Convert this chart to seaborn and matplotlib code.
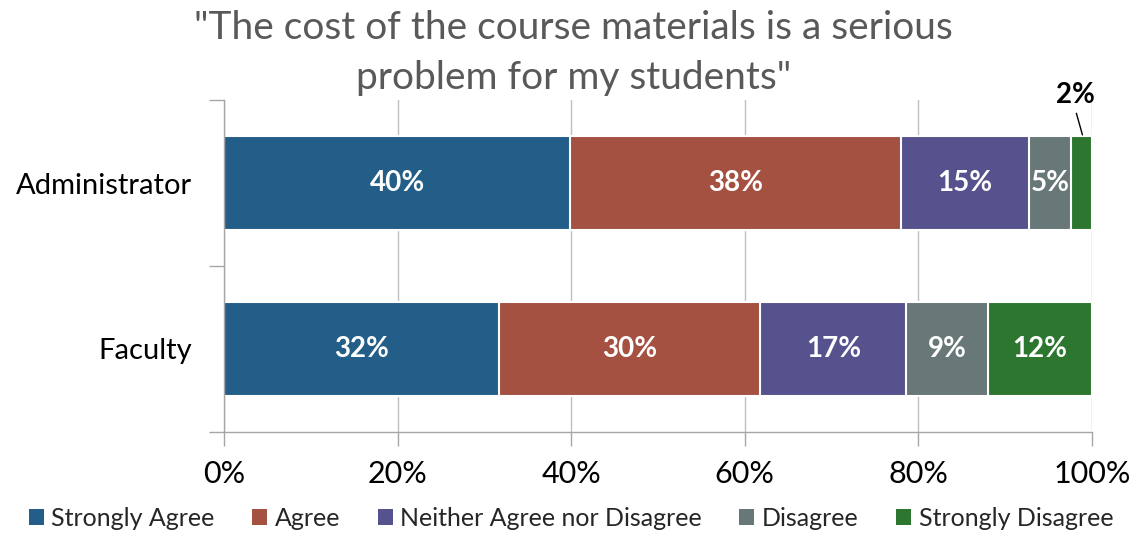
import matplotlib
matplotlib.use("Agg")
import matplotlib.pyplot as plt
import seaborn as sns
import pandas as pd
import numpy as np
from matplotlib.ticker import MultipleLocator, FixedLocator, PercentFormatter
from matplotlib.patches import Patch

groups = ["Administrator", "Faculty"]
responses = ["Strongly Agree", "Agree", "Neither Agree nor Disagree", "Disagree", "Strongly Disagree"]
administrator = [39.9, 38.1, 14.7, 4.9, 2.4]
faculty = [31.7, 30.1, 16.8, 9.4, 12.0]
colors = ["#235E88", "#A55142", "#56528D", "#687778", "#2D7630"]
title = '"The cost of the course materials is a serious\nproblem for my students"'

sns.set_style("white")
plt.rcParams['font.family'] = ['Lato', 'DejaVu Sans']

fig = plt.figure(figsize=(11.35, 5.33), dpi=100)
ax = fig.add_axes([224/1135, 101/533, (1092-224)/1135, (432-100)/533])

vals = np.array([administrator, faculty])
cum = np.cumsum(vals, axis=1)

# draw cumulative bars from last to first so they stack visually
for j in range(len(responses) - 1, -1, -1):
    df = pd.DataFrame({"group": groups, "value": cum[:, j]})
    sns.barplot(data=df, x="value", y="group", orient="h", color=colors[j],
                width=0.57, edgecolor="white", linewidth=1.5, ax=ax, zorder=2,
                saturation=1)

for i, g in enumerate(groups):
    for j in range(len(responses)):
        v = vals[i, j]
        center = cum[i, j] - v / 2
        label = f"{round(v)}%"
        if v < 3.5:
            ax.text(center - 0.75, -0.48, label, ha="center", va="baseline",
                    fontsize=20, fontweight="bold", color="black", zorder=5,
                    clip_on=False)
            ax.plot([center - 0.6, center + 0.1], [-0.42, -0.29],
                    color="black", lw=1, zorder=5, clip_on=False)
        else:
            ax.text(center, i, label, ha="center", va="center",
                    fontsize=20, fontweight="bold", color="white", zorder=5)

ax.set_xlim(0, 100)
ax.set_ylim(1.5, -0.5)
ax.xaxis.set_major_locator(MultipleLocator(20))
ax.xaxis.set_major_formatter(PercentFormatter(decimals=0))
ax.grid(axis="x", color="#BFBFBF", lw=1, zorder=0)
ax.set_axisbelow(True)
ax.set_xlabel("")
ax.set_ylabel("")

ax.yaxis.set_minor_locator(FixedLocator([-0.5, 0.5, 1.5]))
ax.tick_params(axis="y", which="major", length=0, labelsize=21, pad=23, labelcolor="black")
ax.tick_params(axis="y", which="minor", length=11, color="#A6A6A6", width=1, left=True)
ax.tick_params(axis="x", which="major", length=10, color="#A6A6A6", width=1, bottom=True,
               labelsize=22, pad=10, labelcolor="black")

for s in ["top", "right"]:
    ax.spines[s].set_visible(False)
for s in ["left", "bottom"]:
    ax.spines[s].set_color("#A6A6A6")
    ax.spines[s].set_linewidth(1)

fig.text(0.505, 1 - 10/533, title, ha="center", va="top", fontsize=28, color="#595959",
         linespacing=1.5)

handles = [Patch(facecolor=c, edgecolor="none") for c in colors]
fig.legend(handles, responses, loc="lower center", bbox_to_anchor=(0.503, -0.036), ncol=5,
           frameon=False, fontsize=18, handlelength=0.6, handleheight=0.6,
           handletextpad=0.3, columnspacing=1.5)

fig.savefig("out.png", dpi=100, facecolor="white")
